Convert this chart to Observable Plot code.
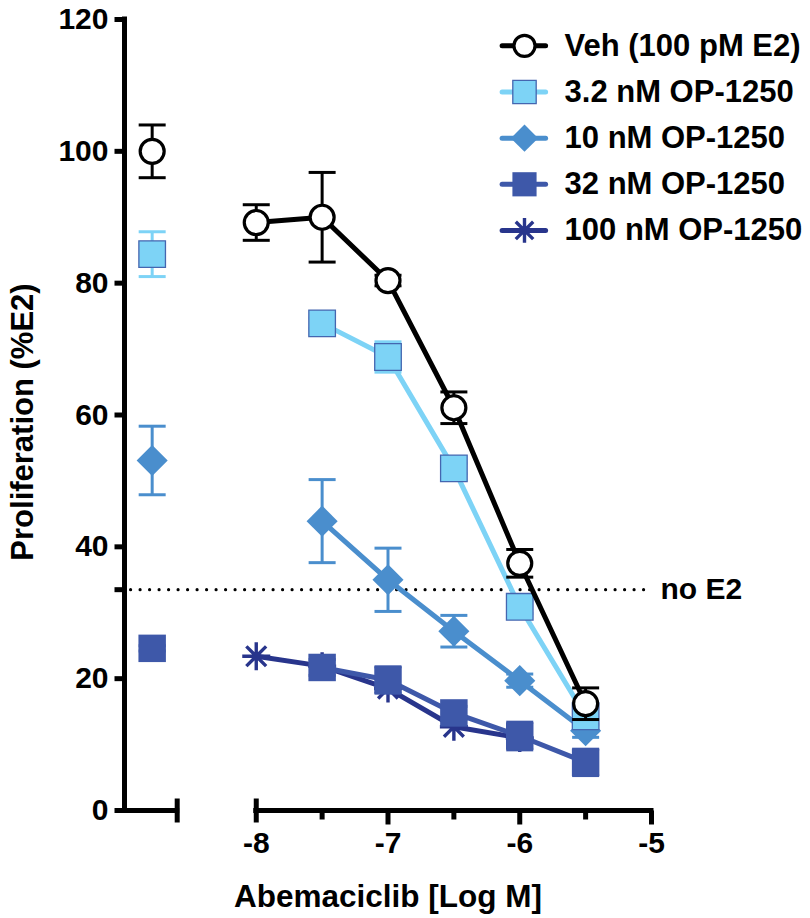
<!DOCTYPE html>
<html>
<head>
<meta charset="utf-8">
<script src="https://cdn.jsdelivr.net/npm/d3@7"></script>
<script src="https://cdn.jsdelivr.net/npm/@observablehq/plot@0.6"></script>
<style>
  body { margin: 0; background: #fff; }
  #chart svg { display: block; }
</style>
</head>
<body>
<div id="chart"></div>
<script>
// ---------------- data ----------------
const doses = [-8, -7.5, -7, -6.5, -6, -5.5];           // Abemaciclib, log M
const controlDose = -8.79;                              // no-Abemaciclib column (left axis segment)
const seriesNames = ["Veh (100 pM E2)", "3.2 nM OP-1250", "10 nM OP-1250", "32 nM OP-1250", "100 nM OP-1250"];
const seriesColors = ["#000000", "#7dd3f6", "#4a8ecd", "#3e58a9", "#28358c"];

const vehMean   = [89.2, 90.0, 80.4, 61.1, 37.5, 16.2];
const vehErr    = [2.7, 6.8, 0.8, 2.4, 2.1, 2.4];
const op3Mean   = [null, 73.9, 68.8, 51.9, 30.9, 14.3];
const op3Err    = [null, 0.8, 2.3, 0.8, 1.0, 1.5];
const op10Mean  = [null, 43.9, 35.0, 27.2, 19.7, 12.1];
const op10Err   = [null, 6.3, 4.8, 2.4, 1.0, 1.0];
const op32Mean  = [null, 21.7, 19.8, 14.8, 11.3, 7.3];
const op32Err   = [null, 1.2, 2.0, 1.0, 2.1, 2.0];
const op100Mean = [23.4, 21.9, 18.5, 12.7, 11.0, null];
const op100Err  = [0, 0, 0, 0, 0, null];

const controlMean = [100.0, 84.4, 53.1, 24.6, null];
const controlErr  = [4.0, 3.4, 5.2, 0.4, null];

const noE2Level = 33.5;
const noE2Label = "no E2";

const yTicks = [0, 20, 40, 60, 80, 100, 120];
const yTickLabels = ["0", "20", "40", "60", "80", "100", "120"];
const xTicksMajor = [-8, -7, -6, -5];
const xTickLabels = ["-8", "-7", "-6", "-5"];
const xTicksMinor = [-7.5, -6.5, -5.5];
const xAxisSegments = [[-9, -8.6], [-8, -5]];
const xTitle = "Abemaciclib [Log M]";
const yTitle = "Proliferation (%E2)";

// ---------------- build tables ----------------
const means = [vehMean, op3Mean, op10Mean, op32Mean, op100Mean];
const errs  = [vehErr, op3Err, op10Err, op32Err, op100Err];
const seriesRows = means.map((m, s) =>
  doses.map((x, j) => ({ s, x, y: m[j], e: errs[s][j] })).filter(d => d.y != null));
const controlRows = controlMean.map((y, s) => ({ s, x: controlDose, y, e: controlErr[s] })).filter(d => d.y != null);

// ---------------- custom symbols ----------------
const rad = size => Math.sqrt(size / Math.PI);
const hline = { draw(c, size) { const r = rad(size); c.moveTo(-r, 0); c.lineTo(r, 0); } };
const hlineLeft = { draw(c, size) { const r = rad(size); c.moveTo(0, 0); c.lineTo(-r, 0); } };
const vlineDown = { draw(c, size) { const r = rad(size); c.moveTo(0, 0); c.lineTo(0, r); } };
const vlineBoth = { draw(c, size) { const r = rad(size); c.moveTo(0, -r); c.lineTo(0, r); } };
const asterisk8 = { draw(c, size) {
  const r = rad(size);
  for (const a of [0, 45, 90, 135]) {
    const t = a * Math.PI / 180, dx = r * Math.cos(t), dy = r * Math.sin(t);
    c.moveTo(dx, dy); c.lineTo(-dx, -dy);
  }
} };

const FONT = "'Liberation Sans', Arial, Helvetica, sans-serif";

function markerMarks(rows, s, scale = 1) {
  const col = seriesColors[s];
  if (s === 0) return [Plot.dot(rows, { x: "x", y: "y", r: 12 * scale, fill: "white", stroke: col, strokeWidth: 3.2 })];
  if (s === 1) return [Plot.dot(rows, { x: "x", y: "y", symbol: "square", r: 15 * scale, fill: col, stroke: "#4466b0", strokeWidth: 1.3 })];
  if (s === 2) return [Plot.dot(rows, { x: "x", y: "y", symbol: "diamond2", r: 14 * scale, fill: col, stroke: "none" })];
  if (s === 3) return [Plot.dot(rows, { x: "x", y: "y", symbol: "square", r: 15.5 * scale, fill: col, stroke: "none" })];
  return [Plot.dot(rows, { x: "x", y: "y", symbol: asterisk8, r: 14 * scale, fill: "none", stroke: col, strokeWidth: 3.4 })];
}

function errorMarks(rows, s) {
  const col = seriesColors[s];
  const withErr = rows.filter(d => d.e > 0);
  return [
    Plot.ruleX(withErr, { x: "x", y1: d => d.y - d.e, y2: d => d.y + d.e, stroke: col, strokeWidth: 3 }),
    Plot.dot(withErr, { x: "x", y: d => d.y + d.e, symbol: hline, r: 13.5, fill: "none", stroke: col, strokeWidth: 3 }),
    Plot.dot(withErr, { x: "x", y: d => d.y - d.e, symbol: hline, r: 13.5, fill: "none", stroke: col, strokeWidth: 3 })
  ];
}

const seriesMarks = [];
for (const s of [4, 3, 2, 1, 0]) {
  const rows = seriesRows[s];
  const ctrl = controlRows.filter(d => d.s === s);
  seriesMarks.push(Plot.line(rows, { x: "x", y: "y", stroke: seriesColors[s], strokeWidth: 5 }));
  seriesMarks.push(...errorMarks(rows, s), ...errorMarks(ctrl, s));
  seriesMarks.push(...markerMarks(rows, s), ...markerMarks(ctrl, s));
}

// legend (placed in the plot's own coordinates, top right)
const legendRows = seriesNames.map((name, s) => ({ s, name, y: 116 - 7 * s }));
const legendMarks = [
  Plot.ruleY(legendRows, { y: "y", x1: -6.13, x2: -5.80, stroke: d => seriesColors[d.s], strokeWidth: 5, strokeLinecap: "round" }),
  ...legendRows.flatMap(d => markerMarks([{ x: -5.964, y: d.y }], d.s, 0.88)),
  Plot.text(legendRows, { x: -5.66, y: "y", text: "name", textAnchor: "start", lineAnchor: "middle", fontSize: 31, fontWeight: "bold", fill: "black" })
];

const yTickAll = [...yTicks, noE2Level];

const chart = Plot.plot({
  width: 810,
  height: 918,
  marginLeft: 124,
  marginRight: 159,
  marginTop: 19,
  marginBottom: 108,
  x: { domain: [-9, -5], axis: null },
  y: { domain: [0, 120], axis: null },
  style: { fontFamily: FONT, background: "white", color: "black", overflow: "visible" },
  marks: [
    // no E2 reference line
    Plot.ruleY([noE2Level], { x1: -8.95, x2: -5.0, stroke: "black", strokeWidth: 3.2, strokeDasharray: "0 9.5", strokeLinecap: "round" }),
    Plot.text([noE2Label], { x: -5, y: noE2Level, dx: 9, text: d => d, textAnchor: "start", lineAnchor: "middle", fontSize: 30, fontWeight: "bold", fill: "black" }),
    // series
    ...seriesMarks,
    // y axis
    Plot.ruleX([-9], { y1: 0, y2: 120, stroke: "black", strokeWidth: 5, strokeLinecap: "square" }),
    Plot.dot(yTickAll, { y: d => d, frameAnchor: "left", symbol: hlineLeft, r: 10, fill: "none", stroke: "black", strokeWidth: 5 }),
    Plot.text(yTicks, { y: d => d, text: (d, i) => yTickLabels[i], frameAnchor: "left", textAnchor: "end", dx: -16, lineAnchor: "middle", fontSize: 30, fontWeight: "bold", fill: "black" }),
    // x axis (broken)
    Plot.ruleY(xAxisSegments, { y: 0, x1: d => d[0], x2: d => d[1], stroke: "black", strokeWidth: 5, strokeLinecap: "square" }),
    Plot.dot([xAxisSegments[0][1], xAxisSegments[1][0]], { x: d => d, frameAnchor: "bottom", symbol: vlineBoth, r: 12, fill: "none", stroke: "black", strokeWidth: 5 }),
    Plot.dot(xTicksMajor.slice(1), { x: d => d, frameAnchor: "bottom", symbol: vlineDown, r: 14, fill: "none", stroke: "black", strokeWidth: 5 }),
    Plot.dot(xTicksMinor, { x: d => d, frameAnchor: "bottom", symbol: vlineDown, r: 9, fill: "none", stroke: "black", strokeWidth: 5 }),
    Plot.text(xTicksMajor, { x: d => d, text: (d, i) => xTickLabels[i], frameAnchor: "bottom", dy: 33, lineAnchor: "middle", fontSize: 30, fontWeight: "bold", fill: "black" }),
    // axis titles
    Plot.text([xTitle], { frameAnchor: "bottom", text: d => d, textAnchor: "middle", dy: 86, lineAnchor: "middle", fontSize: 31.5, fontWeight: "bold", fill: "black" }),
    Plot.text([yTitle], { frameAnchor: "left", text: d => d, textAnchor: "middle", rotate: -90, dx: -101, dy: 7, lineAnchor: "middle", fontSize: 31, fontWeight: "bold", fill: "black" }),
    // legend
    ...legendMarks
  ]
});

document.getElementById("chart").appendChild(chart);
</script>
</body>
</html>
